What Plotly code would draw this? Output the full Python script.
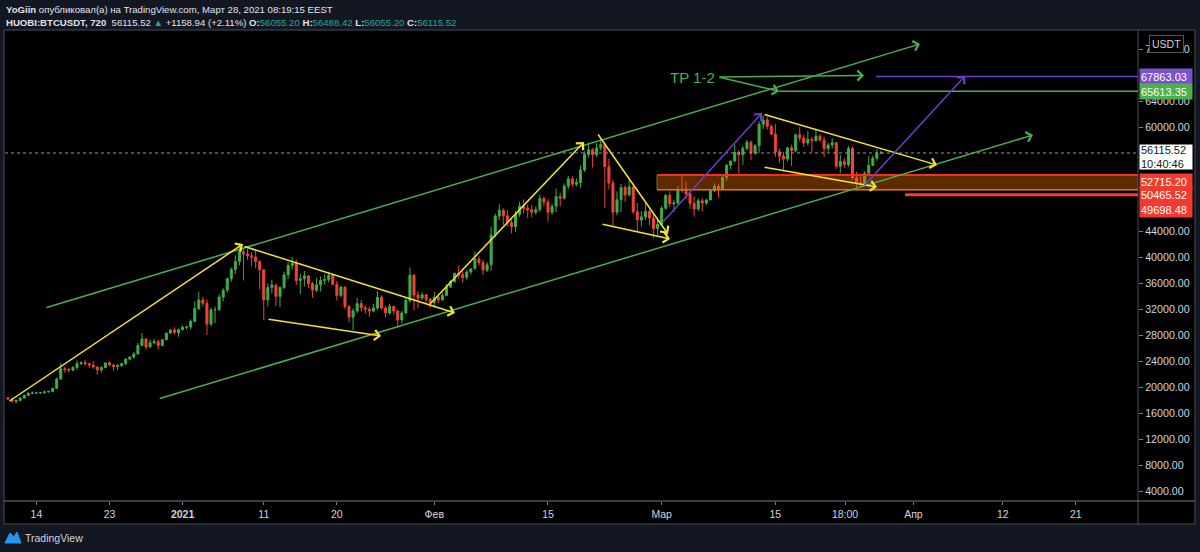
import plotly.graph_objects as go
import pandas as pd

# ---------------- candle data (12h candles, HUOBI:BTCUSDT) ----------------
candle_start = "2020-12-10 12:00"

opens = [
    18450,
    18250, 17900, 18040, 18400, 18800, 19150, 19170, 19200, 19270, 19350,
    19430, 19900, 21340, 22900, 22800, 22700, 23130, 23700, 23860, 23700,
    23480, 23200, 22740, 23100, 23820, 23500, 23250, 23400, 23720, 24400,
    24710, 25200, 26490, 27500, 26280, 26900, 27080, 26500, 27390, 28400,
    28880, 28500, 28920, 29300, 29330, 30200, 32180, 33500, 33000, 29800,
    31990, 32000, 33950, 35000, 36770, 38200, 39430, 40900, 40580, 40300,
    40090, 39400, 38150, 33500, 35400, 35800, 34050, 35400, 37370, 38800,
    39140, 36500, 36770, 37200, 36010, 35000, 35820, 36500, 36630, 37300,
    35890, 34200, 35470, 32500, 30850, 31800, 32940, 32300, 32080, 31800,
    32260, 33900, 32250, 31500, 32510, 31800, 30410, 31500, 33400, 37300,
    34260, 33800, 34300, 33600, 33100, 33900, 33500, 34200, 35470, 36300,
    37620, 37400, 36940, 37800, 38290, 39800, 39250, 38100, 38900, 43500,
    46400, 47300, 46450, 45400, 44800, 46700, 47970, 47600, 47380, 47000,
    47400, 49100, 48560, 47000, 47900, 49400, 49150, 51000, 52130, 51300,
    51570, 53500, 55900, 56600, 55840, 56900, 57400, 54000, 51500, 47000,
    48900, 50800, 49680, 50900, 47060, 45800, 46280, 47100, 46100, 44500,
    45130, 47600, 49590, 48300, 48430, 50500, 50350, 49800, 48370, 47500,
    48750, 48400, 48880, 50300, 50970, 50600, 52380, 54200, 54880, 56200,
    55850, 56800, 57770, 56100, 57220, 60500, 61190, 60200, 59000, 56300,
    55630, 55200, 56900, 56500, 58910, 58400, 57650, 58200, 58030, 58700,
    58100, 56800, 57350, 57700, 54080, 54800, 54340, 56800, 52300, 51500,
    51300, 53000, 54200, 55300,
    56055.20,
]
highs = [
    18550,
    18290, 18150, 18500, 18950, 19300, 19410, 19350, 19330, 19570, 19500,
    20000, 21560, 23770, 23200, 23100, 23280, 24170, 24050, 24300, 23800,
    24100, 23300, 23300, 23840, 24100, 23600, 23600, 23790, 24500, 24790,
    25500, 26870, 28420, 27600, 27400, 27500, 27400, 27400, 28500, 28990,
    29300, 29100, 29600, 29500, 30500, 33300, 34780, 34000, 33600, 32300,
    32500, 34360, 35300, 36940, 38500, 40370, 41950, 41400, 41380, 40800,
    41350, 39600, 38260, 36000, 36630, 35900, 35600, 37850, 39300, 40100,
    39700, 37500, 37950, 37300, 36300, 36850, 37100, 37460, 37850, 37400,
    36420, 35700, 35600, 32700, 32200, 33830, 33450, 32700, 32400, 32940,
    34880, 34200, 32600, 32920, 32560, 32000, 31800, 33780, 38500, 37500,
    34880, 34700, 34330, 33800, 34700, 34100, 34600, 35980, 36600, 37660,
    38700, 37900, 38100, 38310, 40950, 40200, 39700, 39300, 44800, 46800,
    48200, 47600, 47310, 45900, 47200, 48630, 48990, 48200, 48150, 47900,
    49700, 49400, 49000, 48300, 50650, 50000, 51400, 52600, 52530, 52200,
    54200, 56370, 57700, 56900, 57600, 58350, 57530, 55200, 52000, 50200,
    51370, 51200, 52040, 51000, 48420, 47200, 48390, 47400, 46640, 45800,
    48000, 49790, 50200, 48900, 51000, 52640, 51770, 50200, 49450, 49100,
    49200, 49100, 50500, 51450, 51300, 52400, 54400, 54900, 57390, 56600,
    57200, 58150, 58050, 57500, 61000, 61850, 61680, 60500, 60600, 56800,
    56300, 56940, 57400, 58990, 60100, 58900, 59470, 58600, 59880, 59000,
    58640, 57700, 58400, 57800, 55830, 55300, 57200, 57100, 53230, 52500,
    53300, 55600, 55700, 56700,
    56488.42,
]
lows = [
    18100,
    17700, 17570, 18020, 18350, 18720, 19000, 19000, 19100, 19050, 19250,
    19290, 19850, 21230, 22300, 22350, 22600, 22750, 23500, 23400, 23060,
    22900, 22000, 22350, 23000, 23300, 22600, 22700, 23200, 23440, 24200,
    24500, 25100, 26400, 25860, 26100, 26700, 25880, 26400, 27320, 28300,
    28200, 27850, 28800, 28900, 28950, 30100, 31960, 32500, 28130, 29500,
    29900, 31800, 33290, 34700, 36300, 37500, 38800, 36500, 39700, 38720,
    38400, 35110, 30420, 32500, 34500, 32530, 32380, 35200, 36700, 38200,
    35800, 34400, 35600, 35360, 33850, 34700, 34800, 35900, 36200, 35850,
    33400, 33900, 32100, 30070, 28850, 31500, 31700, 31390, 30900, 31600,
    31900, 32000, 30840, 31200, 31300, 29240, 29840, 31300, 33100, 31920,
    32230, 33500, 32900, 32300, 32300, 33000, 33420, 34100, 35360, 36200,
    36800, 36160, 36570, 37400, 38220, 38800, 37350, 37800, 37990, 43100,
    45800, 45000, 44800, 43730, 43990, 46300, 46800, 46100, 46200, 46600,
    47020, 47900, 45570, 46600, 47020, 47900, 48940, 50600, 50900, 51000,
    50710, 53200, 55400, 53860, 55480, 56500, 47620, 50500, 44890, 46500,
    47000, 48600, 49400, 46700, 44100, 44800, 45800, 45000, 43000, 43500,
    45000, 47400, 47800, 47050, 48100, 50000, 49000, 47500, 46300, 47200,
    47070, 48100, 48880, 50100, 49270, 50500, 51850, 53600, 54700, 53000,
    54270, 56500, 55050, 55800, 56080, 59800, 59700, 58960, 55500, 54600,
    53270, 54800, 54120, 56200, 57900, 57020, 57300, 56270, 57820, 57900,
    55450, 56300, 56800, 53650, 53000, 53800, 53970, 52000, 50430, 50800,
    51220, 52800, 54100, 54900,
    56055.20,
]
closes = [
    18250,
    17900, 18040, 18400, 18800, 19150, 19170, 19200, 19270, 19350, 19430,
    19900, 21340, 22900, 22800, 22700, 23130, 23700, 23860, 23700, 23480,
    23200, 22740, 23100, 23820, 23500, 23250, 23400, 23720, 24400, 24710,
    25200, 26490, 27500, 26280, 26900, 27080, 26500, 27390, 28400, 28880,
    28500, 28920, 29300, 29330, 30200, 32180, 33500, 33000, 29800, 31990,
    32000, 33950, 35000, 36770, 38200, 39430, 40900, 40580, 40300, 40090,
    39400, 38150, 33500, 35400, 35800, 34050, 35400, 37370, 38800, 39140,
    36500, 36770, 37200, 36010, 35000, 35820, 36500, 36630, 37300, 35890,
    34200, 35470, 32500, 30850, 31800, 32940, 32300, 32080, 31800, 32260,
    33900, 32250, 31500, 32510, 31800, 30410, 31500, 33400, 37300, 34260,
    33800, 34300, 33600, 33100, 33900, 33500, 34200, 35470, 36300, 37620,
    37400, 36940, 37800, 38290, 39800, 39250, 38100, 38900, 43500, 46400,
    47300, 46450, 45400, 44800, 46700, 47970, 47600, 47380, 47000, 47400,
    49100, 48560, 47000, 47900, 49400, 49150, 51000, 52130, 51300, 51570,
    53500, 55900, 56600, 55840, 56900, 57400, 54000, 51500, 47000, 48900,
    50800, 49680, 50900, 47060, 45800, 46280, 47100, 46100, 44500, 45130,
    47600, 49590, 48300, 48430, 50500, 50350, 49800, 48370, 47500, 48750,
    48400, 48880, 50300, 50970, 50600, 52380, 54200, 54880, 56200, 55850,
    56800, 57770, 56100, 57220, 60500, 61190, 60200, 59000, 56300, 55630,
    55200, 56900, 56500, 58910, 58400, 57650, 58200, 58030, 58700, 58100,
    56800, 57350, 57700, 54080, 54800, 54340, 56800, 52300, 51500, 51300,
    53000, 54200, 55300, 56050,
    56115.52,
]
assert len(opens) == len(highs) == len(lows) == len(closes)
times = pd.date_range(candle_start, periods=len(closes), freq="12h")

# ---------------- axis ticks ----------------
x_tick_dates = ["2020-12-14", "2020-12-23", "2021-01-01", "2021-01-11", "2021-01-20",
                "2021-02-01", "2021-02-15", "2021-03-01", "2021-03-15", "2021-03-23 14:00",
                "2021-04-01", "2021-04-12", "2021-04-21"]
x_tick_text = ["14", "23", "<b>2021</b>", "11", "20", "Фев", "15", "Мар", "15", "18:00",
               "Апр", "12", "21"]
# ticks not hidden behind the price labels
y_tick_vals = [4000, 8000, 12000, 16000, 20000, 24000, 28000, 32000, 36000, 40000,
               44000, 60000, 64000, 72000]

# ---------------- drawings (time, price) ----------------
# tail_time, tail_price, head_time, head_price
green_arrows = [
    ("2020-12-15 01:30", 32261, "2021-04-01 19:40", 72877),
    ("2020-12-29 00:00", 18261, "2021-04-15 17:30", 58877),
    ("2021-03-07 22:30", 67800, "2021-03-25 22:00", 68031),
    ("2021-03-07 22:30", 67800, "2021-03-15 10:50", 65613.35),
]
yellow_arrows = [
    ("2020-12-10 12:00", 17799, "2021-01-08 10:35", 42108),
    ("2021-01-08 10:35", 41800, "2021-02-03 13:10", 31492),
    ("2021-01-11 09:40", 30569, "2021-01-25 10:35", 27953),
    ("2021-01-31 05:30", 32569, "2021-02-19 10:35", 57800),
    ("2021-02-21 01:00", 59185, "2021-03-01 18:40", 43646),
    ("2021-02-21 12:45", 45184, "2021-03-02 00:45", 42877),
    ("2021-03-13 11:30", 62108, "2021-04-03 21:50", 54261),
    ("2021-03-13 11:30", 53954, "2021-03-27 12:30", 50877),
]
purple_arrows = [
    ("2021-03-01 01:00", 45338, "2021-03-13 08:40", 62262),
    ("2021-03-25 19:10", 50877, "2021-04-07 08:40", 67954),
]
tp_text = "TP 1-2"
tp_text_pos = ("2021-03-07 22:30", 67800)
tp_line_start = "2021-03-15 10:50"
tp_level = 65613.35
target_line_start = "2021-03-27 09:40"
target_level = 67863.03
zone_start = "2021-02-28 10:20"
zone_top = 52715.20
zone_bottom = 50465.52
stop_line_start = "2021-03-30 23:20"
stop_level = 49698.48
last_price = 56115.52
countdown = "10:40:46"
right_end = "2021-05-10"

# ---------------- styles ----------------
UP = "#3fae49"
DOWN = "#f0433a"
GREEN = "#4caf50"
YELLOW = "#f5e52a"
PURPLE = "#6a3fd0"
RED = "#f23a2e"
NAVY = "#131722"
GRID = "#4a4d57"
TXT = "#d1d4dc"
FONT = "Liberation Sans, Arial, sans-serif"

PL, PR, PT, PB = 5, 62, 30, 51
W, H = 1200, 552
PW, PH = W - PL - PR, H - PT - PB


def px(xp):
    return (xp - PL) / PW


def py(yp):
    return (H - PB - yp) / PH


fig = go.Figure()
fig.add_trace(go.Candlestick(
    x=times, open=opens, high=highs, low=lows, close=closes,
    increasing=dict(line=dict(color=UP, width=1), fillcolor=UP),
    decreasing=dict(line=dict(color=DOWN, width=1), fillcolor=DOWN),
    whiskerwidth=0, hoverinfo="skip", showlegend=False,
))

shapes = []
annotations = []

# chart panel background + frame
shapes.append(dict(type="rect", xref="paper", yref="paper", x0=px(4), x1=px(1195),
                   y0=py(524), y1=py(30), fillcolor="#000000", line=dict(color=GRID, width=1),
                   layer="below"))
shapes.append(dict(type="line", xref="paper", yref="paper", x0=1, x1=1, y0=py(524), y1=py(30),
                   line=dict(color=GRID, width=1)))
shapes.append(dict(type="line", xref="paper", yref="paper", x0=px(4), x1=px(1195), y0=0, y1=0,
                   line=dict(color="#787b86", width=1)))

# support zone
shapes.append(dict(type="rect", xref="x", yref="y", x0=zone_start, x1=right_end,
                   y0=zone_bottom, y1=zone_top,
                   fillcolor="rgba(235,105,0,0.40)", line=dict(color="#6f7d2a", width=1)))
shapes.append(dict(type="line", xref="x", yref="y", x0=zone_start, x1=right_end,
                   y0=zone_top, y1=zone_top, line=dict(color="#ff2a1f", width=2)))
shapes.append(dict(type="line", xref="x", yref="y", x0=zone_start, x1=right_end,
                   y0=zone_bottom, y1=zone_bottom, line=dict(color="#e0701c", width=1.5)))
# stop line
shapes.append(dict(type="line", xref="x", yref="y", x0=stop_line_start, x1=right_end,
                   y0=stop_level, y1=stop_level, line=dict(color="#ff3b2f", width=3)))
# last price dotted line
shapes.append(dict(type="line", xref="paper", yref="y", x0=0, x1=1, y0=last_price, y1=last_price,
                   line=dict(color="#9598a1", width=1, dash="dot")))
# TP horizontal lines
shapes.append(dict(type="line", xref="x", yref="y", x0=tp_line_start, x1=right_end,
                   y0=tp_level, y1=tp_level, line=dict(color=GREEN, width=1.5)))
shapes.append(dict(type="line", xref="x", yref="y", x0=target_line_start, x1=right_end,
                   y0=target_level, y1=target_level, line=dict(color=PURPLE, width=1.5)))


def add_arrows(lst, color):
    for t0, p0, t1, p1 in lst:
        annotations.append(dict(x=t1, y=p1, ax=t0, ay=p0, xref="x", yref="y", axref="x", ayref="y",
                                text="", showarrow=True, arrowhead=4, arrowsize=1.3, arrowwidth=1.5,
                                arrowcolor=color, standoff=0, startstandoff=0))


add_arrows(green_arrows, GREEN)
add_arrows(yellow_arrows, YELLOW)
add_arrows(purple_arrows, PURPLE)

annotations.append(dict(x=tp_text_pos[0], y=tp_text_pos[1], xref="x", yref="y", text=tp_text,
                        showarrow=False, xanchor="right", yanchor="middle", xshift=-1,
                        font=dict(family=FONT, size=15, color=GREEN)))

# right axis price labels
price_labels = [
    (target_level, "67863.03", "#7b52cc", "#ffffff", 0),
    (tp_level, "65613.35", GREEN, "#ffffff", -0.5),
    (zone_top, "52715.20", RED, "#ffffff", -6),
    (zone_bottom, "50465.52", RED, "#ffffff", -5),
    (stop_level, "49698.48", RED, "#ffffff", -14.5),
]
for p, txt, bg, fc, sh in price_labels:
    annotations.append(dict(x=1, y=p, xref="paper", yref="y", xanchor="left", yanchor="middle",
                            text=txt, showarrow=False, bgcolor=bg, width=50, height=13,
                            align="left", borderpad=1, yshift=sh, xshift=1,
                            font=dict(family=FONT, size=11, color=fc)))
annotations.append(dict(x=1, y=last_price, xref="paper", yref="y", xanchor="left", yanchor="middle",
                        text=f"{last_price:.2f}<br>{countdown}", showarrow=False, bgcolor="#ffffff",
                        width=50, height=22, align="left", borderpad=1, yshift=-4.5, xshift=1,
                        font=dict(family=FONT, size=11, color="#131722")))
# USDT badge
annotations.append(dict(x=px(1166), y=py(44), xref="paper", yref="paper", text="USDT", showarrow=False,
                        xanchor="center", yanchor="middle",
                        bgcolor="#000000", bordercolor="#50535e", borderwidth=1, borderpad=2,
                        font=dict(family=FONT, size=10.5, color=TXT)))

# header
G = "#26a69a"
line1 = "<b>YoGiin</b> опубликовал(а) на TradingView.com, Март 28, 2021 08:19:15 EEST"
line2 = ("<b>HUOBI:BTCUSDT, 720</b>  56115.52 <span style='color:%s'>▲</span> +1158.94 (+2.11%%) "
         "<b>O:</b><span style='color:%s'>56055.20</span> <b>H:</b><span style='color:%s'>56488.42</span> "
         "<b>L:</b><span style='color:%s'>56055.20</span> <b>C:</b><span style='color:%s'>56115.52</span>"
         % (G, G, G, G, G))
annotations.append(dict(x=px(4), y=py(9), xref="paper", yref="paper", xanchor="left", yanchor="middle",
                        text=line1, showarrow=False, font=dict(family=FONT, size=9.6, color="#e0e3eb")))
annotations.append(dict(x=px(4), y=py(22), xref="paper", yref="paper", xanchor="left", yanchor="middle",
                        text=line2, showarrow=False, font=dict(family=FONT, size=9.6, color="#e0e3eb")))
# footer logo
annotations.append(dict(x=px(23), y=py(538), xref="paper", yref="paper", xanchor="left", yanchor="middle",
                        text="TradingView", showarrow=False, font=dict(family=FONT, size=10.5, color=TXT)))
shapes.append(dict(type="path", xref="paper", yref="paper",
                   path="M %f,%f L %f,%f L %f,%f L %f,%f L %f,%f L %f,%f Z" % (
                       px(5), py(543), px(10), py(533), px(14), py(537), px(17), py(532),
                       px(21), py(543), px(13), py(543)),
                   fillcolor="#2196f3", line=dict(color="#2196f3", width=1)))

fig.update_layout(
    width=W, height=H,
    margin=dict(l=PL, r=PR, t=PT, b=PB),
    paper_bgcolor=NAVY, plot_bgcolor="#000000",
    shapes=shapes, annotations=annotations,
    showlegend=False, hovermode=False,
    xaxis=dict(type="date", range=["2020-12-10 03:11", "2021-04-28 15:50"],
               rangeslider=dict(visible=False), showgrid=False, zeroline=False,
               tickmode="array", tickvals=x_tick_dates, ticktext=x_tick_text,
               ticks="outside", ticklen=3, tickcolor="#787b86",
               tickfont=dict(family=FONT, size=10.5, color=TXT), showline=False, fixedrange=True),
    yaxis=dict(side="right", range=[2569, 75031], showgrid=False, zeroline=False,
               tickmode="array", tickvals=y_tick_vals, tickformat=".2f",
               ticks="outside", ticklen=4, tickcolor="#787b86",
               tickfont=dict(family=FONT, size=10.7, color=TXT), showline=False, fixedrange=True),
)

fig.write_html("out.html")
